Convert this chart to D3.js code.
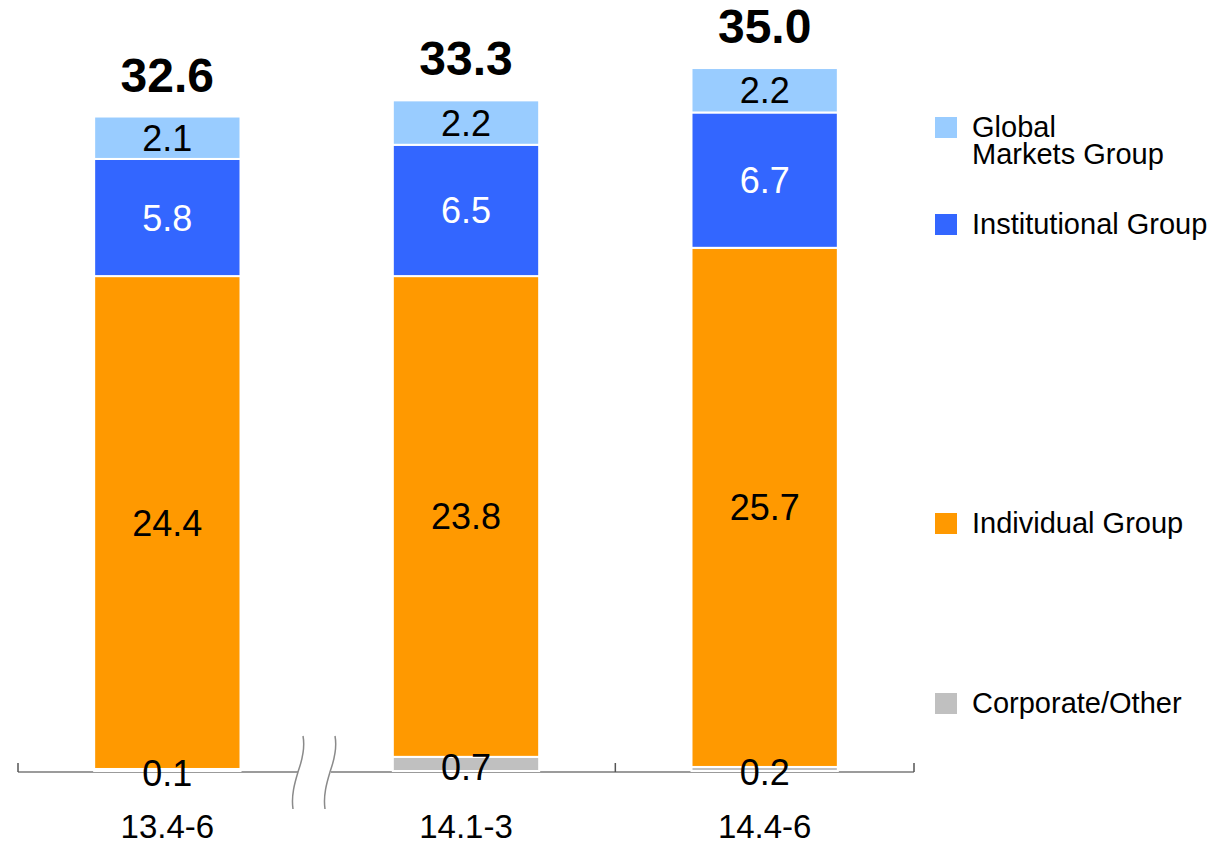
<!DOCTYPE html>
<html>
<head>
<meta charset="utf-8">
<script src="https://cdn.jsdelivr.net/npm/d3@7"></script>
<style>
  body { margin: 0; background: #fff; }
  svg text { font-family: "Liberation Sans", Arial, sans-serif; }
</style>
</head>
<body>
<div id="chart"></div>
<script>
// values
let periods = ["13.4-6", "14.1-3", "14.4-6"];
let totals = [32.6, 33.3, 35.0];
let corporate = [0.1, 0.7, 0.2];
let individual = [24.4, 23.8, 25.7];
let institutional = [5.8, 6.5, 6.7];
let globalMarkets = [2.1, 2.2, 2.2];

let seriesNames = ["Corporate/Other", "Individual Group", "Institutional Group", "Global Markets Group"];
let seriesColors = ["#c0c0c0", "#ff9900", "#3366ff", "#99ccff"];
let labelColors = ["#000", "#000", "#fff", "#000"];

let w = 1211, h = 841;
let baseY = 771;
let pxPerUnit = 20.2;

let viz = d3.select("#chart")
  .append("svg")
    .attr("width", w)
    .attr("height", h)
;

// build rows for the stack
let rows = periods.map(function(p, i){
  return {
    period: p,
    "Corporate/Other": corporate[i],
    "Individual Group": individual[i],
    "Institutional Group": institutional[i],
    "Global Markets Group": globalMarkets[i]
  };
});

let stack = d3.stack().keys(seriesNames);
let stacked = stack(rows);

let xScale = d3.scaleBand()
  .domain(periods)
  .range([18, 914])
  .paddingInner(0.51)
  .paddingOuter(0.255)
;
let yScale = d3.scaleLinear()
  .domain([0, 36])
  .range([baseY, baseY - 36 * pxPerUnit])
;

// axis line, broken between the first two bars
let axisGroup = viz.append("g").attr("class", "axisgroup");
let axisColor = "#7a7a7a";
let step = xScale.step();
let edges = [18, 18 + step, 18 + 2 * step, 914];

axisGroup.append("line")
  .attr("x1", 18).attr("x2", 298)
  .attr("y1", baseY + 1).attr("y2", baseY + 1)
  .attr("stroke", axisColor).attr("stroke-width", 1.5);
axisGroup.append("line")
  .attr("x1", 331).attr("x2", 914)
  .attr("y1", baseY + 1).attr("y2", baseY + 1)
  .attr("stroke", axisColor).attr("stroke-width", 1.5);

axisGroup.selectAll(".tick")
  .data([edges[0], edges[2], edges[3]])
  .enter()
  .append("line")
    .attr("class", "tick")
    .attr("x1", function(d){ return d; })
    .attr("x2", function(d){ return d; })
    .attr("y1", baseY + 1)
    .attr("y2", baseY - 8)
    .attr("stroke", "#555")
    .attr("stroke-width", 1.5)
;

// the break marks
[0, 32].forEach(function(off){
  axisGroup.append("path")
    .attr("d", "M" + (303 + off) + ",736 C" + (306 + off) + ",752 " + (300 + off) + ",765 " + (298 + off) + ",772"
      + " C" + (295 + off) + ",782 " + (291 + off) + ",795 " + (293 + off) + ",809")
    .attr("fill", "none")
    .attr("stroke", "#8a8a8a")
    .attr("stroke-width", 1.5)
  ;
});

// bars
let graphgroup = viz.append("g").attr("class", "graphgroup");

let layers = graphgroup.selectAll(".layer")
  .data(stacked)
  .enter()
  .append("g")
    .attr("class", "layer")
    .attr("fill", function(d, i){ return seriesColors[i]; })
;

layers.selectAll("rect")
  .data(function(d){ return d; })
  .enter()
  .append("rect")
    .attr("x", function(d){ return xScale(d.data.period); })
    .attr("width", xScale.bandwidth())
    .attr("y", function(d){ return yScale(d[1]); })
    .attr("height", function(d){ return yScale(d[0]) - yScale(d[1]); })
    .attr("stroke", "#fff")
    .attr("stroke-width", 2)
;

// segment labels
let labelgroup = viz.append("g").attr("class", "labelgroup");
stacked.forEach(function(layer, li){
  labelgroup.selectAll(".lab" + li)
    .data(layer)
    .enter()
    .append("text")
      .attr("class", "lab" + li)
      .attr("x", function(d){ return xScale(d.data.period) + xScale.bandwidth() / 2; })
      .attr("y", function(d){
        let c = (yScale(d[0]) + yScale(d[1])) / 2;
        if (li == 0) { c = c + 3; }
        return c + 13;
      })
      .attr("text-anchor", "middle")
      .attr("font-size", "36px")
      .attr("fill", labelColors[li])
      .text(function(d){ return d[1] - d[0] > 0 ? d.data[layer.key].toFixed(1) : ""; })
  ;
});

// totals on top
labelgroup.selectAll(".total")
  .data(stacked[stacked.length - 1])
  .enter()
  .append("text")
    .attr("class", "total")
    .attr("x", function(d){ return xScale(d.data.period) + xScale.bandwidth() / 2; })
    .attr("y", function(d){ return yScale(d[1]) - 25; })
    .attr("text-anchor", "middle")
    .attr("font-size", "48px")
    .attr("font-weight", "bold")
    .text(function(d, i){ return totals[i].toFixed(1); })
;

// category labels
viz.selectAll(".cat")
  .data(periods)
  .enter()
  .append("text")
    .attr("class", "cat")
    .attr("x", function(d){ return xScale(d) + xScale.bandwidth() / 2; })
    .attr("y", 838)
    .attr("text-anchor", "middle")
    .attr("font-size", "33px")
    .text(function(d){ return d; })
;

// legend
let legendItems = [
  { idx: 3, y: 117, lines: ["Global", "Markets Group"] },
  { idx: 2, y: 214, lines: ["Institutional Group"] },
  { idx: 1, y: 513, lines: ["Individual Group"] },
  { idx: 0, y: 693, lines: ["Corporate/Other"] }
];
let legend = viz.append("g").attr("class", "legend");
let items = legend.selectAll(".item")
  .data(legendItems)
  .enter()
  .append("g")
    .attr("class", "item")
    .attr("transform", function(d){ return "translate(935," + d.y + ")"; })
;
items.append("rect")
  .attr("width", 22)
  .attr("height", 21)
  .attr("fill", function(d){ return seriesColors[d.idx]; })
;
items.each(function(d){
  let g = d3.select(this);
  d.lines.forEach(function(line, k){
    g.append("text")
      .attr("x", 37)
      .attr("y", 20 + k * 27)
      .attr("font-size", "29px")
      .attr("fill", "#000")
      .text(line);
  });
});
</script>
</body>
</html>
